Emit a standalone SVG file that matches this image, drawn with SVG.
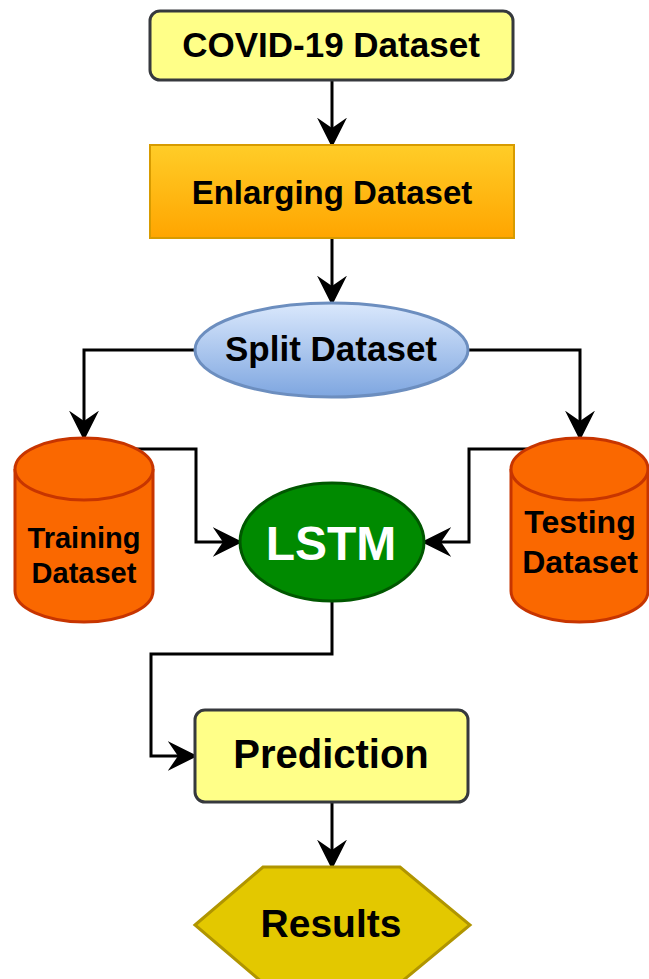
<svg xmlns="http://www.w3.org/2000/svg" width="649" height="979" viewBox="0 0 649 979">
<style>
text{font-family:"Liberation Sans",Arial,sans-serif;font-weight:bold;text-anchor:middle;fill:#000}
.conn{fill:none;stroke:#000;stroke-width:3;marker-end:url(#arr)}
.note{fill:#ffff88;stroke:#36393d;stroke-width:3}
.cyl{fill:#fa6800;stroke:#c73500;stroke-width:3}
</style>
<defs>
<linearGradient id="gOrange" x1="0" y1="0" x2="0" y2="1"><stop offset="0" stop-color="#ffcd28"/><stop offset="1" stop-color="#ffa500"/></linearGradient>
<linearGradient id="gBlue" x1="0" y1="0" x2="0" y2="1"><stop offset="0" stop-color="#dae8fc"/><stop offset="1" stop-color="#7ea6e0"/></linearGradient>
<marker id="arr" markerUnits="userSpaceOnUse" markerWidth="30" markerHeight="30" viewBox="0 0 26 26" refX="9" refY="13" orient="auto">
<path d="M0,0 L26,13 L0,26 L9,13 Z" fill="#000"/>
</marker>
</defs>
<g id="connectors">
<path class="conn" d="M332,80 L332,128"/>
<path class="conn" d="M332,238 L332,286"/>
<path class="conn" d="M195,350 L84,350 L84,421"/>
<path class="conn" d="M468,350 L580,350 L580,421"/>
<path class="conn" d="M133,449 L196,449 L196,542 L223,542"/>
<path class="conn" d="M530,449 L469,449 L469,542 L441,542"/>
<path class="conn" d="M332,601 L332,654 L151,654 L151,756 L178,756"/>
<path class="conn" d="M332,802 L332,850"/>
</g>
<g id="covid">
<rect class="note" x="150" y="11" width="363" height="69" rx="10"/>
<text x="331" y="57" font-size="35">COVID-19 Dataset</text>
</g>
<g id="enlarging">
<rect x="150" y="145" width="364" height="93" fill="url(#gOrange)" stroke="#d79b00" stroke-width="2"/>
<text x="332" y="204" font-size="33">Enlarging Dataset</text>
</g>
<g id="split">
<ellipse cx="331.5" cy="350" rx="136.5" ry="47" fill="url(#gBlue)" stroke="#6c8ebf" stroke-width="3"/>
<text x="331" y="361" font-size="35">Split Dataset</text>
</g>
<g id="training">
<path class="cyl" d="M15,469 A69,31 0 0 1 153,469 L153,591 A69,31 0 0 1 15,591 Z"/>
<path class="cyl" fill="none" d="M15,469 A69,31 0 0 0 153,469"/>
<text x="84" y="548" font-size="29">Training</text>
<text x="84" y="583" font-size="29">Dataset</text>
</g>
<g id="testing">
<path class="cyl" d="M511,469 A68.5,31 0 0 1 648,469 L648,591 A68.5,31 0 0 1 511,591 Z"/>
<path class="cyl" fill="none" d="M511,469 A68.5,31 0 0 0 648,469"/>
<text x="580" y="533" font-size="32">Testing</text>
<text x="580" y="573" font-size="32">Dataset</text>
</g>
<g id="lstm">
<ellipse cx="332" cy="542" rx="92" ry="59" fill="#008a00" stroke="#005700" stroke-width="3"/>
<text x="331" y="560" font-size="48" style="fill:#fff">LSTM</text>
</g>
<g id="prediction">
<rect class="note" x="195" y="710" width="273" height="92" rx="10"/>
<text x="331" y="768" font-size="40">Prediction</text>
</g>
<g id="results">
<polygon points="195,925 263,867 400,867 470,925 400,983 263,983" fill="#e3c800" stroke="#b09500" stroke-width="3"/>
<text x="331" y="937" font-size="39">Results</text>
</g>
</svg>
